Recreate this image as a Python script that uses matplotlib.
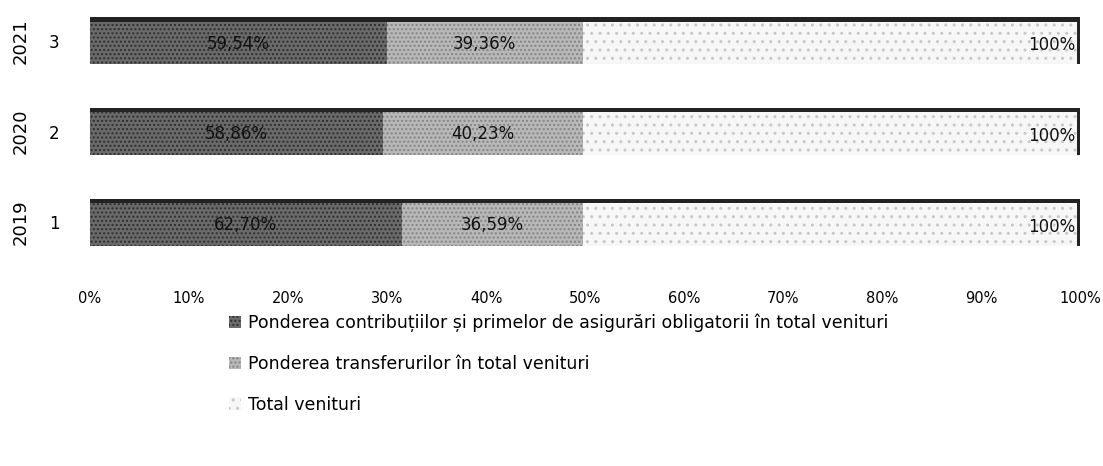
import numpy as np
import matplotlib.pyplot as plt
import matplotlib.transforms as mtransforms
from matplotlib.patches import Patch

plt.rcParams['font.family'] = ['DejaVu Sans']

# date
years = ['2019', '2020', '2021']
idx = ['1', '2', '3']
contributii = np.array([62.70, 58.86, 59.54])
transferuri = np.array([36.59, 40.23, 39.36])
total = np.array([100, 100, 100])
serii = ['Ponderea contribuțiilor și primelor de asigurări obligatorii în total venituri',
         'Ponderea transferurilor în total venituri',
         'Total venituri']

# 100% stacked -> fiecare segment ca parte din suma
suma = contributii + transferuri + total
w1 = contributii / suma
w2 = transferuri / suma
w3 = total / suma

fig = plt.figure(figsize=(11.03, 4.66), dpi=100)
ax = fig.add_axes([0.0816, 0.4356, 0.898, 0.5644])

y = np.arange(1, 4)
h = 0.52
colors = ['#6a6a6a', '#b8b8b8', '#f7f7f7']
hatches = ['....', '....', '..']
hcol = ['#2e2e2e', '#848484', '#c8c8c8']

lefts = [np.zeros(3), w1, w1 + w2]
widths = [w1, w2, w3]
for left, wd, c, ht, hc in zip(lefts, widths, colors, hatches, hcol):
    ax.barh(y, wd, left=left, height=h, color=c, hatch=ht, edgecolor=hc, linewidth=0)
    # partea de sus mai intunecata (aspect 3D)
    ax.barh(y + h / 2 - 0.025, wd, left=left, height=0.05, color='#222222', linewidth=0)

# margine dreapta
ax.barh(y, 0.004, left=1 - 0.004, height=h, color='#222222', linewidth=0)

# etichete
for i in range(3):
    ax.text(w1[i] / 2, y[i] - 0.03, f'{contributii[i]:.2f}%'.replace('.', ','),
            ha='center', va='center', fontsize=12, color='#111111')
    ax.text(w1[i] + w2[i] / 2, y[i] - 0.03, f'{transferuri[i]:.2f}%'.replace('.', ','),
            ha='center', va='center', fontsize=12, color='#111111')
    ax.text(0.995, y[i] - 0.05, f'{total[i]}%',
            ha='right', va='center', fontsize=12, color='#111111')

ax.set_xlim(0, 1)
ax.set_ylim(0.55, 3.45)
ax.set_xticks(np.linspace(0, 1, 11))
ax.set_xticklabels([f'{int(v)}%' for v in np.linspace(0, 100, 11)], fontsize=10.5)
ax.set_yticks(y)
ax.set_yticklabels(idx, fontsize=12)
ax.tick_params(axis='x', length=0, pad=20)
ax.tick_params(axis='y', length=0, pad=22)
for s in ax.spines.values():
    s.set_visible(False)

# anii, rotiti
trans = mtransforms.blended_transform_factory(fig.transFigure, ax.transData)
for yy, an in zip(y, years):
    fig.text(0.019, yy, an, transform=trans, rotation=90, ha='center', va='center',
             fontsize=13)

handles = [Patch(facecolor=c, hatch=ht, edgecolor=hc, linewidth=0)
           for c, ht, hc in zip(colors, hatches, hcol)]
fig.legend(handles, serii, loc='upper left', bbox_to_anchor=(0.193, 0.36),
           frameon=False, fontsize=12.5, labelspacing=1.3, handlelength=0.7,
           handleheight=0.7, handletextpad=0.4)

plt.savefig('out.png', dpi=100)
